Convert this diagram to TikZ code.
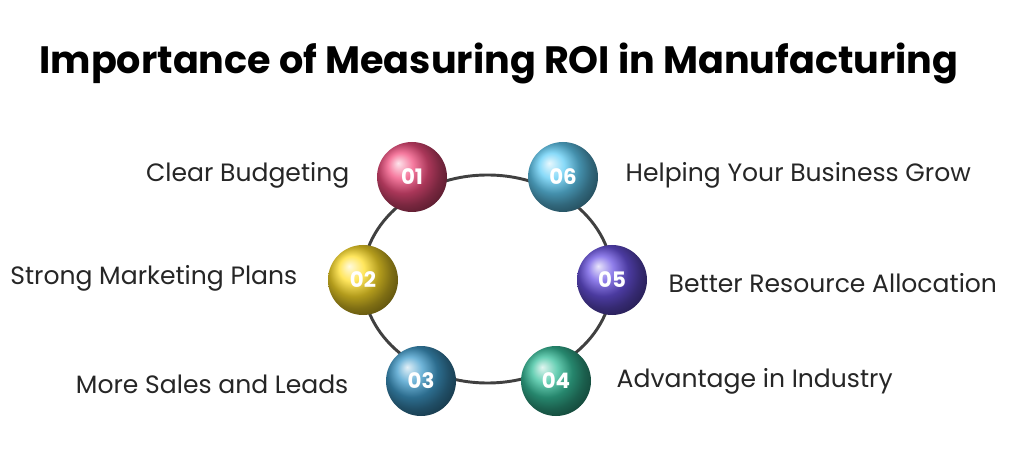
\documentclass[tikz,border=0pt]{standalone}
\usepackage{fontspec}
\setmainfont{Poppins}
\definecolor{c1}{HTML}{F03A70}
\definecolor{c6}{HTML}{50C8F5}
\definecolor{c2}{HTML}{FFDA10}
\definecolor{c5}{HTML}{5A40E0}
\definecolor{c3}{HTML}{2A90C5}
\definecolor{c4}{HTML}{20B890}
\tikzset{
  ballnode/.style={circle, minimum size=70*0.75pt, inner sep=0pt, ball color=#1!90!white, text=white, font=\fontsize{16}{18}\selectfont\bfseries},
  lab/.style={font=\fontsize{18.8}{22}\selectfont, text=black!85}
}
\begin{document}
\begin{tikzpicture}[x=0.75pt,y=-0.75pt]
\useasboundingbox (0,0) rectangle (1016,466);
\fill[white] (0,0) rectangle (1016,466);
\node[font=\fontsize{28.6}{34}\bfseries\selectfont] (title) at (499,63) {Importance of Measuring ROI in Manufacturing};
\draw[line width=2.2pt, black!75] (487.5,279) ellipse [x radius=125, y radius=104];
\node[ballnode=c1] (b1) at (412,177) {01};
\node[ballnode=c6] (b6) at (563,177) {06};
\node[ballnode=c2] (b2) at (363,280) {02};
\node[ballnode=c5] (b5) at (612,280) {05};
\node[ballnode=c3] (b3) at (421,381) {03};
\node[ballnode=c4] (b4) at (556,381) {04};
\node[lab, anchor=east] (l1) at (354,175) {Clear Budgeting};
\node[lab, anchor=east] (l2) at (302,278) {Strong Marketing Plans};
\node[lab, anchor=east] (l3) at (353,384) {More Sales and Leads};
\node[lab, anchor=west] (l6) at (621,175) {Helping Your Business Grow};
\node[lab, anchor=west] (l5) at (664,283) {Better Resource Allocation};
\node[lab, anchor=west] (l4) at (612,381) {Advantage in Industry};
\end{tikzpicture}
\end{document}
